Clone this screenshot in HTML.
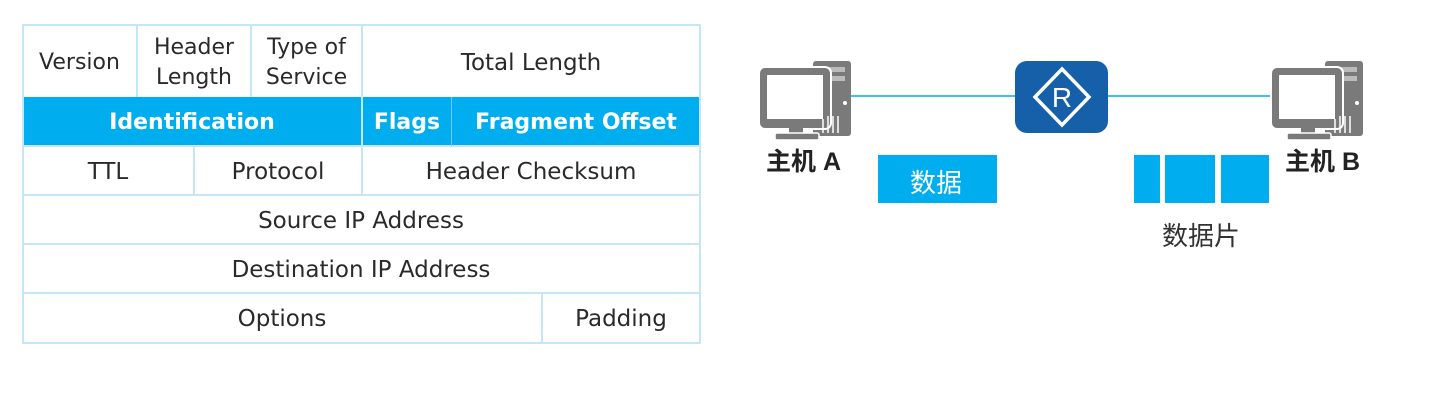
<!DOCTYPE html>
<html><head><meta charset="utf-8"><style>
body{margin:0;width:1453px;height:403px;background:#fff;position:relative;overflow:hidden;font-family:"DejaVu Sans","Liberation Sans","Noto Sans CJK SC",sans-serif;}
.c{position:absolute;box-sizing:border-box;display:flex;align-items:center;justify-content:center;text-align:center;font-size:23px;color:#2a2a2a;line-height:30px;padding-top:2px;}
.l{position:absolute;background:#c5e6f7;}
.b{background:#00adef;color:#fff;font-weight:bold;font-size:22px;}
.t{position:absolute;font-family:"Liberation Sans","Noto Sans CJK SC",sans-serif;}
</style></head><body>
<div class="c b" style="left:22px;top:97px;width:340px;height:49px;">Identification</div>
<div class="c b" style="left:362px;top:97px;width:90px;height:49px;">Flags</div>
<div class="c b" style="left:452px;top:97px;width:248px;height:49px;">Fragment Offset</div>
<div class="l" style="left:22px;top:24px;width:679px;height:2px"></div>
<div class="l" style="left:22px;top:145px;width:679px;height:2px"></div>
<div class="l" style="left:22px;top:194px;width:679px;height:2px"></div>
<div class="l" style="left:22px;top:243px;width:679px;height:2px"></div>
<div class="l" style="left:22px;top:292px;width:679px;height:2px"></div>
<div class="l" style="left:22px;top:342px;width:679px;height:2px"></div>
<div class="l" style="left:22px;top:24px;width:2px;height:320px"></div>
<div class="l" style="left:699px;top:24px;width:2px;height:320px"></div>
<div class="l" style="left:136px;top:24px;width:2px;height:73px"></div>
<div class="l" style="left:250px;top:24px;width:2px;height:73px"></div>
<div class="l" style="left:361px;top:24px;width:2px;height:172px"></div>
<div class="l" style="left:451px;top:97px;width:1px;height:49px;background:#6fcdf3"></div>
<div class="l" style="left:193px;top:146px;width:2px;height:49px"></div>
<div class="l" style="left:541px;top:293px;width:2px;height:50px"></div>
<div class="c" style="left:22px;top:26px;width:115px;height:71px;font-size:22px">Version</div>
<div class="c" style="left:137px;top:26px;width:114px;height:71px;font-size:22px">Header<br>Length</div>
<div class="c" style="left:251px;top:26px;width:111px;height:71px;font-size:22px">Type of<br>Service</div>
<div class="c" style="left:362px;top:26px;width:338px;height:71px;">Total Length</div>
<div class="c" style="left:22px;top:146px;width:172px;height:49px;">TTL</div>
<div class="c" style="left:194px;top:146px;width:168px;height:49px;">Protocol</div>
<div class="c" style="left:362px;top:146px;width:338px;height:49px;">Header Checksum</div>
<div class="c" style="left:22px;top:195px;width:678px;height:49px;">Source IP Address</div>
<div class="c" style="left:22px;top:244px;width:678px;height:49px;">Destination IP Address</div>
<div class="c" style="left:22px;top:293px;width:520px;height:50px;">Options</div>
<div class="c" style="left:542px;top:293px;width:158px;height:50px;">Padding</div>

<svg style="position:absolute;left:0;top:0" width="1453" height="403">
<defs><g id="pc">
<rect x="54" y="0" width="38" height="75" rx="3" fill="#7a7a7a"/>
<rect x="60" y="6" width="26" height="5" fill="#bbb"/>
<rect x="60" y="15" width="26" height="5" fill="#bbb"/>
<rect x="0" y="6" width="72" height="62" rx="6" fill="#7a7a7a" stroke="#fff" stroke-width="2"/>
<rect x="8" y="14" width="56" height="44" fill="#fff"/>
<rect x="30" y="67" width="14" height="7" fill="#7a7a7a"/>
<rect x="16" y="72" width="44" height="7" rx="2" fill="#7a7a7a" stroke="#fff" stroke-width="1.5"/>
<g stroke="#fff" stroke-width="1.5"><line x1="64" y1="58" x2="64" y2="72"/><line x1="69" y1="55" x2="69" y2="72"/><line x1="74" y1="55" x2="74" y2="72"/><line x1="79" y1="55" x2="79" y2="72"/></g>
<circle cx="86" cy="42" r="2" fill="#fff"/>
</g></defs>
<line x1="850" y1="96" x2="1016" y2="96" stroke="#3cc0f0" stroke-width="2"/>
<line x1="1106" y1="96" x2="1274" y2="96" stroke="#3cc0f0" stroke-width="2"/>
<use href="#pc" x="759" y="61"/>
<use href="#pc" x="1271" y="61"/>
<rect x="1015" y="61" width="93" height="72" rx="12" fill="#1560a8"/>
<polygon points="1062,69 1089,97 1062,125 1035,97" fill="none" stroke="#fff" stroke-width="3.5"/>
<text x="1062" y="107" font-family="Liberation Sans,sans-serif" font-size="28" fill="#fff" text-anchor="middle">R</text>
<rect x="878" y="155" width="119" height="48" fill="#00adef"/>
<rect x="1134" y="155" width="26" height="48" fill="#00adef"/>
<rect x="1165" y="155" width="50" height="48" fill="#00adef"/>
<rect x="1221" y="155" width="48" height="48" fill="#00adef"/>
</svg>
<div class="t" style="left:766px;top:142px;font-size:25px;font-weight:bold;color:#222">主机 A</div>
<div class="t" style="left:1285px;top:142px;font-size:25px;font-weight:bold;color:#222">主机 B</div>
<div class="t" style="left:910px;top:163px;font-size:26px;color:#fff">数据</div>
<div class="t" style="left:1162px;top:216px;font-size:26px;color:#333">数据片</div>
</body></html>
